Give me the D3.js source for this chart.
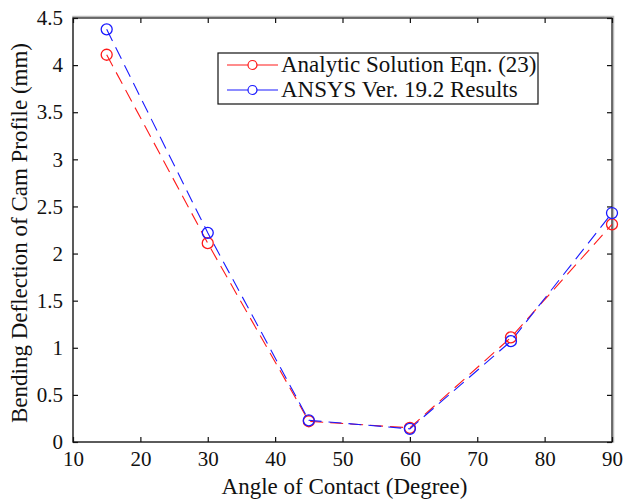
<!DOCTYPE html>
<html>
<head>
<meta charset="utf-8">
<script src="https://cdn.jsdelivr.net/npm/d3@7"></script>
<style>
  body { margin: 0; background: #fff; }
  svg text { font-family: "Liberation Serif", "Times New Roman", serif !important; fill: #111; }
</style>
</head>
<body>
<div id="chart"></div>
<script>
// data
const angles = [15, 30, 45, 60, 75, 90];
const analytic = [4.11, 2.11, 0.22, 0.15, 1.11, 2.31];
const ansys = [4.38, 2.22, 0.23, 0.14, 1.07, 2.43];
const seriesNames = ["Analytic Solution Eqn. (23)", "ANSYS Ver. 19.2 Results"];
const seriesColors = ["#ff1a1a", "#1a1aff"];
const xTicks = [10, 20, 30, 40, 50, 60, 70, 80, 90];
const yTicks = [0, 0.5, 1, 1.5, 2, 2.5, 3, 3.5, 4, 4.5];

let margin = { top: 18, right: 15, bottom: 59, left: 73 },
    width = 627 - margin.left - margin.right,
    height = 501 - margin.top - margin.bottom;

let svg = d3.select("#chart")
    .append("svg")
    .attr("width", 627)
    .attr("height", 501)
    .append("g")
    .attr("transform", "translate(" + margin.left + "," + margin.top + ")");

let x = d3.scaleLinear().domain([10, 90]).range([0, width]);
let y = d3.scaleLinear().domain([0, 4.5]).range([height, 0]);

// frame with a soft shadow on top / right like the original
svg.append("rect")
    .attr("x", 0).attr("y", -1.5)
    .attr("width", width + 1.5).attr("height", height + 1.5)
    .attr("fill", "none").attr("stroke", "#bbb").attr("stroke-width", 1.5);
svg.append("rect")
    .attr("width", width).attr("height", height)
    .attr("fill", "none").attr("stroke", "#111").attr("stroke-width", 1.2);

// axes, ticks point inward
svg.append("g")
    .attr("transform", "translate(0," + height + ")")
    .call(d3.axisBottom(x).tickValues(xTicks).tickSize(-5).tickPadding(9).tickFormat(d3.format("d")));
svg.append("g")
    .call(d3.axisTop(x).tickValues(xTicks).tickSize(-5).tickFormat(""));
svg.append("g")
    .call(d3.axisLeft(y).tickValues(yTicks).tickSize(-5).tickPadding(10).tickFormat(d => String(d)));
svg.append("g")
    .attr("transform", "translate(" + width + ",0)")
    .call(d3.axisRight(y).tickValues(yTicks).tickSize(-5).tickFormat(""));

svg.selectAll(".domain").remove();
svg.selectAll(".tick line").attr("stroke", "#111").attr("stroke-width", 1.2);
svg.selectAll(".tick text")
    .style("font-size", "21px")
    .attr("fill", "#111");

// axis titles
svg.append("text")
    .attr("x", width / 2 + 2)
    .attr("y", height + 52)
    .attr("text-anchor", "middle")
    .style("font-size", "23px")
    .text("Angle of Contact (Degree)");
svg.append("text")
    .attr("transform", "rotate(-90)")
    .attr("x", -height / 2 - 3)
    .attr("y", -46)
    .attr("text-anchor", "middle")
    .style("font-size", "23px")
    .text("Bending Deflection of Cam Profile (mm)");

// series
let allSeries = [analytic, ansys].map((vals, i) => ({
    name: seriesNames[i],
    color: seriesColors[i],
    values: angles.map((a, j) => ({ angle: a, value: vals[j] }))
}));

let line = d3.line()
    .x(d => x(d.angle))
    .y(d => y(d.value));

let plot = svg.append("g");
plot.selectAll(".series")
    .data(allSeries)
    .enter()
    .append("path")
    .attr("class", "series")
    .attr("d", d => line(d.values))
    .attr("fill", "none")
    .attr("stroke", d => d.color)
    .attr("stroke-width", 1.1)
    .attr("stroke-dasharray", "13,7");

plot.selectAll(".dots")
    .data(allSeries)
    .enter()
    .append("g")
    .attr("stroke", d => d.color)
    .selectAll("circle")
    .data(d => d.values)
    .enter()
    .append("circle")
    .attr("cx", d => x(d.angle))
    .attr("cy", d => y(d.value))
    .attr("r", 5.5)
    .attr("fill", "none")
    .attr("stroke-width", 1.3);

// legend
let legend = svg.append("g").attr("transform", "translate(145,35)");
legend.append("rect")
    .attr("width", 320).attr("height", 51)
    .attr("fill", "#fff").attr("stroke", "#111").attr("stroke-width", 1.2);
let items = legend.selectAll(".item")
    .data(allSeries)
    .enter()
    .append("g")
    .attr("transform", (d, i) => "translate(0," + (12 + i * 25) + ")");
items.append("line")
    .attr("x1", 9).attr("x2", 60)
    .attr("stroke", d => d.color).attr("stroke-width", 1.1);
items.append("circle")
    .attr("cx", 34.5).attr("r", 4.5)
    .attr("fill", "#fff").attr("stroke", d => d.color).attr("stroke-width", 1.2);
items.append("text")
    .attr("x", 63).attr("y", 7)
    .style("font-size", "23px")
    .text(d => d.name);
</script>
</body>
</html>
